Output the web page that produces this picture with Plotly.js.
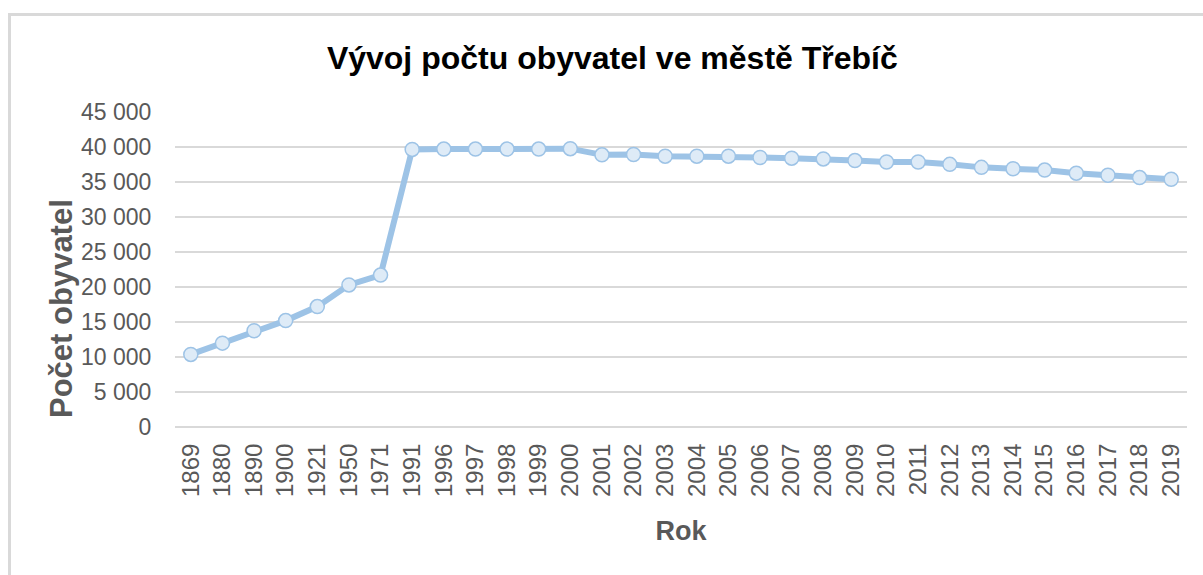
<!DOCTYPE html>
<html>
<head>
<meta charset="utf-8">
<script src="https://cdn.plot.ly/plotly-3.0.1.min.js"></script>
<style>
  html, body { margin: 0; padding: 0; background: #fff; }
  #wrap { position: relative; width: 1203px; height: 575px; overflow: hidden; }
  #frame { position: absolute; left: 8px; top: 13px; width: 1300px; height: 700px;
           border-left: 3px solid #d9d9d9; border-top: 3px solid #d9d9d9; box-sizing: border-box; pointer-events: none; }
  #chart { position: absolute; left: 0; top: 0; width: 1203px; height: 575px; }
</style>
</head>
<body>
<div id="wrap">
  <div id="chart"></div>
  <div id="frame"></div>
</div>
<script>
const years = ["1869","1880","1890","1900","1921","1950","1971","1991","1996","1997","1998","1999","2000",
  "2001","2002","2003","2004","2005","2006","2007","2008","2009","2010","2011","2012","2013","2014",
  "2015","2016","2017","2018","2019"];
const population = [10370, 11980, 13750, 15200, 17200, 20300, 21700, 39650, 39700, 39700, 39700, 39700, 39760,
  38880, 38930, 38690, 38690, 38690, 38500, 38400, 38300, 38060, 37860, 37860, 37520, 37090, 36890,
  36700, 36260, 35970, 35630, 35390];
const titleText = "Vývoj počtu obyvatel ve městě Třebíč";
const xTitle = "Rok";
const yTitle = "Počet obyvatel";

const FONT = '"Liberation Sans", Arial, sans-serif';

const trace = {
  x: years, y: population, type: 'scatter', mode: 'lines+markers',
  line: { color: '#9dc3e6', width: 6 },
  marker: { size: 14, color: '#deebf7', line: { color: '#9dc3e6', width: 1.5 } },
  hoverinfo: 'skip'
};

const layout = {
  width: 1203, height: 575,
  paper_bgcolor: 'rgba(0,0,0,0)', plot_bgcolor: 'rgba(0,0,0,0)',
  margin: { l: 175, r: 16, t: 112, b: 148, autoexpand: false },
  separators: ', ',
  showlegend: false,
  title: {
    text: titleText, x: 0.509, xref: 'container', xanchor: 'center',
    y: 1 - 58/575, yref: 'container', yanchor: 'middle',
    font: { family: FONT, size: 32, color: '#000', weight: 'bold' }
  },
  xaxis: {
    type: 'category', range: [-0.5, years.length - 0.5], fixedrange: true,
    showgrid: false, zeroline: false, showline: false,
    tickangle: -90, ticks: 'outside', ticklen: 6, tickcolor: 'rgba(0,0,0,0)',
    tickfont: { family: FONT, size: 24, color: '#595959' },
    title: { text: xTitle, standoff: 25,
      font: { family: FONT, size: 27, color: '#595959', weight: 'bold' } },
    automargin: false
  },
  yaxis: {
    range: [0, 45000], dtick: 5000, tick0: 0, tickformat: ',d', fixedrange: true,
    showgrid: true, gridcolor: '#d9d9d9', gridwidth: 2,
    zeroline: true, zerolinecolor: '#d9d9d9', zerolinewidth: 2, showline: false,
    ticks: 'outside', ticklen: 18, tickcolor: 'rgba(0,0,0,0)',
    tickfont: { family: FONT, size: 23, color: '#595959' },
    automargin: false
  },
  annotations: [{
    text: yTitle, textangle: -90, showarrow: false,
    xref: 'paper', x: (61 - 175) / 1012, xanchor: 'center',
    yref: 'paper', y: (427 - 309) / 315, yanchor: 'middle',
    font: { family: FONT, size: 31, color: '#595959', weight: 'bold' }
  }]
};

Plotly.newPlot('chart', [trace], layout, { staticPlot: true, displayModeBar: false });
</script>
</body>
</html>
